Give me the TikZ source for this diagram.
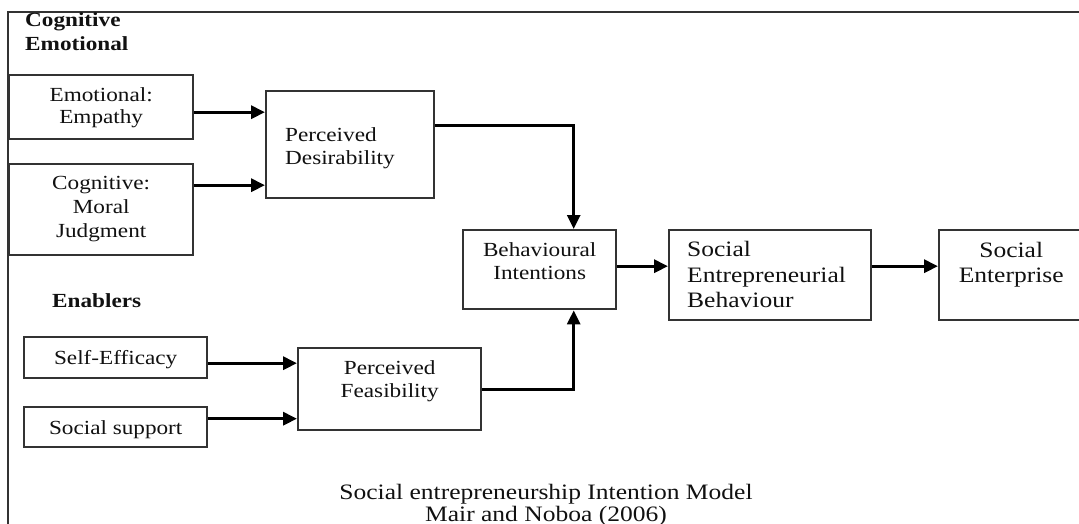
\documentclass[tikz,border=0pt]{standalone}
\usepackage{fontspec}
\setmainfont{Liberation Serif}[FakeStretch=1.16]
\usetikzlibrary{arrows.meta}
\definecolor{boxgray}{HTML}{333333}
\definecolor{txt}{HTML}{111111}
\newcommand\bxt[5]{\parbox[c][#2pt][t]{#1pt}{#4\rule{0pt}{#3pt}#5}}
\begin{document}
\begin{tikzpicture}[x=1pt,y=-1pt,
  box/.style={draw=boxgray, line width=2.4pt, inner sep=0pt, anchor=north west,
    font=\fontsize{20}{23.5}\selectfont, text=txt},
  lbl/.style={inner sep=0pt, text=txt, font=\fontsize{20}{23.5}\selectfont\bfseries},
  tip/.style={-{Triangle[length=14pt,width=13pt]}},
  arr/.style={line width=3.2pt, draw=black, tip},
  link/.style={line width=2.8pt, draw=black, tip},
  frame/.style={line width=2pt, draw=boxgray}]
\fill[white] (0,0) rectangle (1079,524);
\useasboundingbox (0,0) rectangle (1079,524);
\draw[frame] (8,524) -- (8,12.5) -- (1079,12.5);
% headings
\node[lbl, anchor=north west] (hd) at (25,0) {\parbox[t]{200pt}{\raggedright\rule{0pt}{26.5pt}Cognitive\\Emotional}};
\node[lbl, anchor=base west] (en) at (52,307) {Enablers};
% boxes
\node[box] (emp) at (8,74) {\bxt{184}{64}{26}{\centering\fontsize{20}{22}\selectfont}{Emotional:\\Empathy}};
\node[box] (cog) at (8,163) {\bxt{184}{91}{25}{\centering\fontsize{20}{24}\selectfont}{Cognitive:\\Moral\\Judgment}};
\node[box] (pd) at (265,90) {\bxt{168}{107}{50}{\raggedright\leftskip=19pt\relax}{Perceived\\Desirability}};
\node[box] (bi) at (462,229) {\bxt{153}{79}{26}{\centering}{Behavioural\\Intentions}};
\node[box] (seb) at (668,229) {\bxt{202}{90}{26}{\raggedright\leftskip=18pt\relax\fontsize{22}{25.8}\selectfont}{Social\\Entrepreneurial\\Behaviour}};
\node[box] (se) at (938,229) {\bxt{144}{90}{27}{\centering\fontsize{22}{25.5}\selectfont}{Social\\Enterprise}};
\node[box] (ef) at (23,336) {\bxt{183}{41}{27}{\centering}{Self-Efficacy}};
\node[box] (ss) at (23,406) {\bxt{183}{40}{27}{\centering}{Social support}};
\node[box] (pf) at (297,347) {\bxt{183}{82}{26}{\centering}{Perceived\\Feasibility}};
% caption
\node[anchor=north, inner sep=0pt, text=txt] (cap) at (546,477) {\parbox[t]{600pt}{\centering\fontsize{22}{22}\selectfont\rule{0pt}{22pt}Social entrepreneurship Intention Model\\Mair and Noboa (2006)}};
% connectors
\coordinate (a1) at ([yshift=-5pt]emp.east);
\draw[arr] (a1) -- (a1 -| pd.west);
\coordinate (a2) at ([yshift=24.5pt]cog.east);
\draw[arr] (a2) -- (a2 -| pd.west);
\coordinate (a3) at ([yshift=19.5pt]pd.east);
\coordinate (bin) at ([xshift=34pt]bi.north);
\coordinate (bis) at ([xshift=34pt]bi.south);
\draw[link] (a3) -| (bin);
\draw[link] (pf.east) -| (bis);
\coordinate (a4) at ([yshift=3.5pt]bi.east);
\draw[arr] (a4) -- (a4 -| seb.west);
\coordinate (a5) at ([yshift=9pt]seb.east);
\draw[arr] (a5) -- (a5 -| se.west);
\coordinate (a6) at ([yshift=-5.5pt]ef.east);
\draw[arr] (a6) -- (a6 -| pf.west);
\coordinate (a7) at ([yshift=8.5pt]ss.east);
\draw[arr] (a7) -- (a7 -| pf.west);
\end{tikzpicture}
\end{document}
